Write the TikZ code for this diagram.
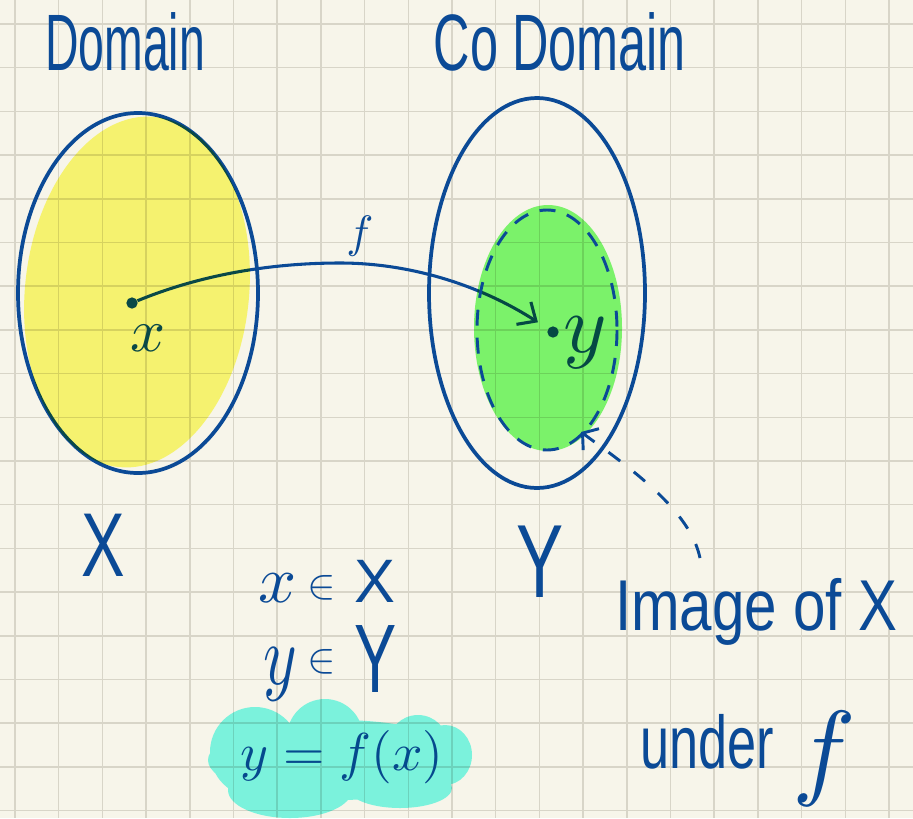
\documentclass[tikz,border=0pt]{standalone}
\usepackage{fontspec}
\setmainfont{Liberation Sans}
\usepackage{graphicx}
\usetikzlibrary{arrows.meta}
\definecolor{paper}{RGB}{247,245,234}
\definecolor{gridc}{RGB}{216,213,200}
\definecolor{ink}{RGB}{11,74,150}
\definecolor{hlyellow}{RGB}{253,252,122}
\definecolor{hlgreen}{RGB}{128,252,116}
\definecolor{hlcyan}{RGB}{128,252,240}
\newcommand{\fsz}[1]{\fontsize{#1}{#1}\selectfont}
\newcommand{\sxx}[2]{\scalebox{#1}[1]{#2}}
\newcommand{\mth}[2]{\scalebox{#1}{\normalsize$#2$}}
\begin{document}
\begin{tikzpicture}[x=0.75pt,y=-0.75pt,
  hand/.style={text=ink, inner sep=0pt, outer sep=0pt},
  inkline/.style={draw=ink, line width=2.8pt},
  dotnode/.style={circle, fill=ink, inner sep=0pt, minimum size=8.5pt},
  gridline/.style={draw=gridc, line width=1.1pt},
  thinink/.style={draw=ink, line width=2.2pt}]

\useasboundingbox (0,0) rectangle (913,818);
\fill[paper] (0,0) rectangle (913,818);
\foreach \i in {0,...,20} \draw[gridline] ({15+43.7*\i},0) -- ({15+43.7*\i},818);
\foreach \i in {0,...,18} \draw[gridline] (0,{24+43.7*\i}) -- (913,{24+43.7*\i});

% set outlines
\draw[inkline] (138,293) ellipse [x radius=120, y radius=180];
\draw[inkline] (537,293) ellipse [x radius=108, y radius=195];

% titles
\node[hand, font=\fsz{60}] (tdom) at (125,42) {\sxx{0.58}{Domain}};
\node[hand, font=\fsz{60}] (tcod) at (560,42) {\sxx{0.63}{Co Domain}};
\node[hand, font=\fsz{68}] (tX) at (103,545) {\sxx{0.72}{X}};
\node[hand, font=\fsz{78}] (tY) at (540,562) {\sxx{0.68}{Y}};

% points and map
\node[dotnode] (px) at (132,303) {};
\node[dotnode] (py) at (553,332) {};
\node[hand] (lx) at (148,338) {\mth{4.6}{x}};
\node[hand] (ly) at (585,343) {\mth{6.2}{y}};
\node[hand] (lf) at (360,236) {\mth{3.4}{f}};
\draw[thinink, line width=2.3pt, -{Straight Barb[length=11pt,width=20pt]}, shorten >=9pt]
  (px) .. controls (200,275) and (270,263) .. (340,263) .. controls (410,263) and (480,285) .. (py);

% relations
\node[hand, font=\fsz{46}, anchor=base] (l1) at (327,602)
  {\mth{5}{x}\hspace{8pt}\raisebox{3pt}{\mth{3.2}{\in}}\hspace{14pt}X};
\node[hand, font=\fsz{73}, anchor=base] (l2) at (330,692)
  {\raisebox{6pt}{\scalebox{4.8}[6.4]{\normalsize$y$}}\hspace{8pt}\raisebox{15pt}{\mth{3.2}{\in}}\hspace{14pt}\sxx{0.65}{Y}};
\node[hand] (l3) at (342,757) {\mth{4}{y=f(x)}};

% image label
\node[hand, font=\fsz{54}, anchor=base west] (img) at (615,630) {\sxx{0.81}{Image of X}};
\node[hand, font=\fsz{56}, anchor=base west] (und) at (640,768)
  {\sxx{0.7}{under}\hspace{14pt}\raisebox{-13pt}{\mth{8}{f}}};

% highlighter
\begin{scope}[blend mode=multiply]
\fill[hlyellow, rotate around={-6:(137,292)}] (137,292) ellipse [x radius=112, y radius=176];
\fill[hlgreen] (548,328) ellipse [x radius=74, y radius=123];
\fill[hlcyan] (338,760) ellipse [x radius=130, y radius=40]
  (325,737) circle [radius=38]
  (418,745) circle [radius=30]
  (445,755) ellipse [x radius=27, y radius=30]
  (255,752) circle [radius=45]
  (290,790) ellipse [x radius=62, y radius=28]
  (400,788) ellipse [x radius=52, y radius=20];
\end{scope}

% image outline and pointer
\draw[thinink, dash pattern=on 12pt off 9pt] (547,330) ellipse [x radius=70, y radius=120];
\coordinate (ptrstart) at (700,558);
\coordinate (imgtip) at (581,432);
\draw[thinink, dash pattern=on 11pt off 13pt, -{Straight Barb[length=8pt,width=20pt]}]
  (ptrstart) .. controls (690,510) and (630,468) .. (imgtip);
\end{tikzpicture}
\end{document}
